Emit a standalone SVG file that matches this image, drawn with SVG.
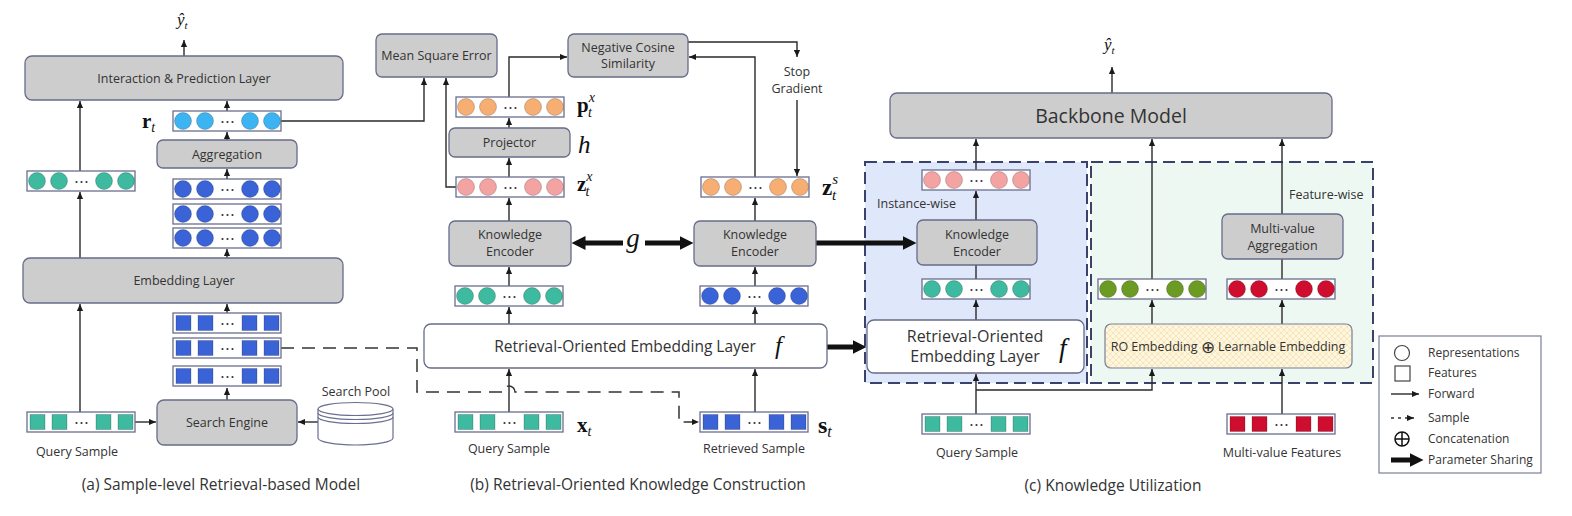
<svg xmlns="http://www.w3.org/2000/svg" xmlns:xlink="http://www.w3.org/1999/xlink" width="1572" height="516" viewBox="0 0 1572 516">
<style>
text{font-family:"Open Sans","Noto Sans",sans-serif;fill:#333;}
.lbl{font-size:12.5px;text-anchor:middle;}
.cap{font-size:15.5px;text-anchor:middle;}
.gb{fill:#cdcdcd;stroke:#676c8a;stroke-width:1.3;}
.wb{fill:#fff;stroke:#676c8a;stroke-width:1.3;}
.vb{fill:#fff;stroke:#6a6f8f;stroke-width:1.3;}
.cn{fill:none;stroke:#2a2a2a;stroke-width:1.4;}
.ar{marker-end:url(#a);}
.th{fill:none;stroke:#111;stroke-width:5;marker-end:url(#t);}
.dsh{fill:none;stroke:#333;stroke-width:1.5;stroke-dasharray:13,8;}
.math{font-family:"Liberation Serif","DejaVu Serif",serif;fill:#111;}
.it{font-style:italic;}
.bd{font-weight:bold;}
</style>
<defs>
<marker id="a" viewBox="0 0 8 8" refX="8" refY="4" markerWidth="7" markerHeight="7" markerUnits="userSpaceOnUse" orient="auto"><path d="M0,0.5 L8,4 L0,7.5 z" fill="#1a1a1a"/></marker>
<marker id="t" viewBox="0 0 14 14" refX="0.5" refY="7" markerWidth="14" markerHeight="14" markerUnits="userSpaceOnUse" orient="auto"><path d="M0,0 L14,7 L0,14 z" fill="#111"/></marker>
<pattern id="hatch" width="6" height="6" patternUnits="userSpaceOnUse"><rect width="6" height="6" fill="#fff7dd"/><path d="M0,0 L6,6 M6,0 L0,6" stroke="#f0d9a6" stroke-width="0.6"/></pattern>
<g id="cvec"><rect x="0" y="0" width="108" height="20" class="vb"/><circle cx="10" cy="10" r="8.5" stroke="rgba(0,0,0,0.25)" stroke-width="0.8"/><circle cx="32" cy="10" r="8.5" stroke="rgba(0,0,0,0.25)" stroke-width="0.8"/><circle cx="77" cy="10" r="8.5" stroke="rgba(0,0,0,0.25)" stroke-width="0.8"/><circle cx="99" cy="10" r="8.5" stroke="rgba(0,0,0,0.25)" stroke-width="0.8"/><circle cx="49.5" cy="11" r="1.1" fill="#333"/><circle cx="54.5" cy="11" r="1.1" fill="#333"/><circle cx="59.5" cy="11" r="1.1" fill="#333"/></g>
<g id="svec"><rect x="0" y="0" width="108" height="20" class="vb"/><rect x="3" y="2.5" width="15" height="15" stroke="rgba(0,0,0,0.25)" stroke-width="0.8"/><rect x="25" y="2.5" width="15" height="15" stroke="rgba(0,0,0,0.25)" stroke-width="0.8"/><rect x="69" y="2.5" width="15" height="15" stroke="rgba(0,0,0,0.25)" stroke-width="0.8"/><rect x="91" y="2.5" width="15" height="15" stroke="rgba(0,0,0,0.25)" stroke-width="0.8"/><circle cx="49.5" cy="11" r="1.1" fill="#333"/><circle cx="54.5" cy="11" r="1.1" fill="#333"/><circle cx="59.5" cy="11" r="1.1" fill="#333"/></g>
</defs>
<rect width="1572" height="516" fill="#fff"/>

<!-- panel (c) background regions -->
<g id="instance-wise-region">
<rect x="865" y="162" width="222" height="221" fill="#dfe7fb" stroke="#39426b" stroke-width="2" stroke-dasharray="12,6"/>
<text x="877" y="208" font-size="12.5">Instance-wise</text>
</g>
<g id="feature-wise-region">
<rect x="1091" y="162" width="282" height="221" fill="#eef8f2" stroke="#39426b" stroke-width="2" stroke-dasharray="12,6"/>
<text x="1289" y="199" font-size="12.5">Feature-wise</text>
</g>

<!-- connectors -->
<g id="connectors">
<path class="cn ar" d="M184,56 V40"/>
<path class="cn ar" d="M80,171 V101"/>
<path class="cn ar" d="M80,258 V192"/>
<path class="cn ar" d="M80,412 V304"/>
<path class="cn ar" d="M227,111 V101"/>
<path class="cn ar" d="M227,140 V132"/>
<path class="cn ar" d="M227,179 V169"/>
<path class="cn ar" d="M227,258 V249"/>
<path class="cn ar" d="M227,313 V304"/>
<path class="cn ar" d="M227,400 V388"/>
<path class="cn ar" d="M135,422 H156"/>
<path class="cn ar" d="M318,422 H298"/>
<path class="cn ar" d="M281,121 H424 V78"/>
<path class="cn ar" d="M456,187 H446 V78"/>
<path class="cn ar" d="M509,177 V158"/>
<path class="cn ar" d="M509,128 V118"/>
<path class="cn ar" d="M509,97 V57 H567"/>
<path class="cn ar" d="M509,221 V198"/>
<path class="cn ar" d="M509,286 V267"/>
<path class="cn ar" d="M509,324 V307"/>
<path class="cn ar" d="M509,412 V369"/>
<path class="cn ar" d="M755,221 V198"/>
<path class="cn ar" d="M755,286 V267"/>
<path class="cn ar" d="M755,324 V307"/>
<path class="cn ar" d="M755,412 V369"/>
<path class="cn ar" d="M755,177 V57 H689"/>
<path class="cn ar" d="M688,42 H797 V57"/>
<path class="cn ar" d="M797,100 V176"/>
<path class="dsh ar" d="M281,348 H417 V392 H503 A6,6 0 0 1 515,392 H679 V422 H699"/>
<path class="cn ar" d="M1112,93 V67"/>
<path class="cn ar" d="M976,170 V139"/>
<path class="cn ar" d="M1152,279 V139"/>
<path class="cn ar" d="M1282,214 V139"/>
<path class="cn ar" d="M976,220 V191"/>
<path class="cn" d="M976,279 V265"/>
<path class="cn ar" d="M976,320 V300"/>
<path class="cn ar" d="M976,414 V374"/>
<path class="cn ar" d="M976,390 H1152 V369"/>
<path class="cn ar" d="M1152,324 V300"/>
<path class="cn" d="M1282,279 V259"/>
<path class="cn ar" d="M1282,324 V300"/>
<path class="cn ar" d="M1282,414 V369"/>
<path class="th" d="M623,243 H585"/>
<path class="th" d="M645,243 H680"/>
<path class="th" d="M816,243 H903"/>
<path class="th" d="M827,347 H853"/>
</g>

<!-- (a) Sample-level Retrieval-based Model -->
<g id="a-yhat"><text class="math it" x="177" y="25" font-size="17">ŷ<tspan font-size="11" dy="4">t</tspan></text></g>
<g id="a-interaction"><rect class="gb" x="25" y="56" width="318" height="44" rx="7"/><text class="lbl" x="184" y="83" font-size="13">Interaction &amp; Prediction Layer</text></g>
<g id="a-rt"><text class="math bd" x="142" y="128" font-size="21">r<tspan class="it" font-weight="normal" font-size="14" dy="4">t</tspan></text><use href="#cvec" x="173" y="111" fill="#3db4f2"/></g>
<g id="a-aggregation"><rect class="gb" x="157" y="140" width="140" height="28" rx="6"/><text class="lbl" x="227" y="159" font-size="13">Aggregation</text></g>
<g id="a-query-rep"><use href="#cvec" x="27" y="171" fill="#3dba9f"/></g>
<g id="a-retrieved-reps"><use href="#cvec" x="173" y="179" fill="#3a63d8"/><use href="#cvec" x="173" y="204" fill="#3a63d8"/><use href="#cvec" x="173" y="228" fill="#3a63d8"/></g>
<g id="a-embedding"><rect class="gb" x="23" y="258" width="320" height="45" rx="7"/><text class="lbl" x="184" y="285" font-size="13">Embedding Layer</text></g>
<g id="a-retrieved-feats"><use href="#svec" x="173" y="313" fill="#3a63d8"/><use href="#svec" x="173" y="338" fill="#3a63d8"/><use href="#svec" x="173" y="366" fill="#3a63d8"/></g>
<g id="a-search-engine"><rect class="gb" x="157" y="400" width="140" height="45" rx="7"/><text class="lbl" x="227" y="427" font-size="13">Search Engine</text></g>
<g id="a-query"><use href="#svec" x="27" y="412" fill="#3dba9f"/><text class="lbl" x="77" y="456">Query Sample</text></g>
<g id="a-search-pool">
<text class="lbl" x="356" y="396">Search Pool</text>
<path d="M318,409 V438 A37.5,7 0 0 0 393,438 V409" fill="#fff" stroke="#6a6f8f" stroke-width="1.2"/>
<ellipse cx="355.5" cy="409" rx="37.5" ry="6.5" fill="#fff" stroke="#6a6f8f" stroke-width="1.2"/>
<path d="M318,413 A37.5,6.5 0 0 0 393,413 M318,417 A37.5,6.5 0 0 0 393,417" fill="none" stroke="#6a6f8f" stroke-width="1.2"/>
</g>
<g id="a-caption"><text class="cap" x="221" y="490">(a) Sample-level Retrieval-based Model</text></g>

<!-- (b) Retrieval-Oriented Knowledge Construction -->
<g id="b-mse"><rect class="gb" x="376" y="34" width="121" height="43" rx="6"/><text class="lbl" x="436.5" y="60" font-size="12.5">Mean Square Error</text></g>
<g id="b-ncs"><rect class="gb" x="568" y="34" width="120" height="43" rx="6"/><text class="lbl" x="628" y="52" font-size="12.5">Negative Cosine</text><text class="lbl" x="628" y="68" font-size="12.5">Similarity</text></g>
<g id="b-stop-gradient"><text class="lbl" x="797" y="76">Stop</text><text class="lbl" x="797" y="93">Gradient</text></g>
<g id="b-px"><use href="#cvec" x="456" y="97" fill="#f7ae72"/><text class="math bd" x="577" y="112" font-size="21">p<tspan class="it" font-weight="normal" font-size="14" dy="-10">x</tspan><tspan class="it" font-weight="normal" font-size="14" dx="-7" dy="15">t</tspan></text></g>
<g id="b-projector"><rect class="gb" x="449" y="128" width="121" height="29" rx="6"/><text class="lbl" x="509.5" y="147" font-size="13">Projector</text><text class="math it" x="578" y="153" font-size="25">h</text></g>
<g id="b-zx"><use href="#cvec" x="456" y="177" fill="#f4a3a3"/><text class="math bd" x="577" y="191" font-size="21">z<tspan class="it" font-weight="normal" font-size="14" dy="-10">x</tspan><tspan class="it" font-weight="normal" font-size="14" dx="-7" dy="15">t</tspan></text></g>
<g id="b-zs"><use href="#cvec" x="701" y="177" fill="#f7ae72"/><text class="math bd" x="822" y="195" font-size="23">z<tspan class="it" font-weight="normal" font-size="15" dy="-11">s</tspan><tspan class="it" font-weight="normal" font-size="15" dx="-6" dy="16">t</tspan></text></g>
<g id="b-ke-query"><rect class="gb" x="449" y="221" width="122" height="45" rx="6"/><text class="lbl" x="510" y="239" font-size="13">Knowledge</text><text class="lbl" x="510" y="256" font-size="13">Encoder</text></g>
<g id="b-g"><text class="math it" x="633" y="247" font-size="27" text-anchor="middle">g</text></g>
<g id="b-ke-retrieved"><rect class="gb" x="694" y="221" width="122" height="45" rx="6"/><text class="lbl" x="755" y="239" font-size="13">Knowledge</text><text class="lbl" x="755" y="256" font-size="13">Encoder</text></g>
<g id="b-query-rep"><use href="#cvec" x="455" y="286" fill="#3dba9f"/></g>
<g id="b-retrieved-rep"><use href="#cvec" x="700" y="286" fill="#3a63d8"/></g>
<g id="b-ro-embedding"><rect class="wb" x="424" y="324" width="403" height="44" rx="7"/><text x="625" y="352" font-size="15.5" text-anchor="middle">Retrieval-Oriented Embedding Layer</text><text class="math it" x="775" y="354" font-size="25">f</text></g>
<g id="b-query"><use href="#svec" x="455" y="412" fill="#3dba9f"/><text class="math bd" x="577" y="432" font-size="21">x<tspan class="it" font-weight="normal" font-size="14" dy="4">t</tspan></text><text class="lbl" x="509" y="453">Query Sample</text></g>
<g id="b-retrieved"><use href="#svec" x="700" y="412" fill="#3a63d8"/><text class="math bd" x="818" y="433" font-size="24">s<tspan class="it" font-weight="normal" font-size="16" dy="4">t</tspan></text><text class="lbl" x="754" y="453">Retrieved Sample</text></g>
<g id="b-caption"><text class="cap" x="638" y="490">(b) Retrieval-Oriented Knowledge Construction</text></g>

<!-- (c) Knowledge Utilization -->
<g id="c-yhat"><text class="math it" x="1104" y="50" font-size="17">ŷ<tspan font-size="11" dy="4">t</tspan></text></g>
<g id="c-backbone"><rect class="gb" x="890" y="93" width="442" height="45" rx="7"/><text x="1111" y="123" font-size="19.5" text-anchor="middle">Backbone Model</text></g>
<g id="c-knowledge-rep"><use href="#cvec" x="922" y="170" fill="#f4a3a3"/></g>
<g id="c-ke"><rect class="gb" x="917" y="220" width="120" height="45" rx="6"/><text class="lbl" x="977" y="239" font-size="13.5">Knowledge</text><text class="lbl" x="977" y="256" font-size="13.5">Encoder</text></g>
<g id="c-query-rep"><use href="#cvec" x="922" y="279" fill="#3dba9f"/></g>
<g id="c-ro-embedding"><rect class="wb" x="867" y="320" width="217" height="53" rx="7"/><text x="975" y="342" font-size="16" text-anchor="middle">Retrieval-Oriented</text><text x="975" y="362" font-size="16" text-anchor="middle">Embedding Layer</text><text class="math it" x="1059" y="357" font-size="27">f</text></g>
<g id="c-mva"><rect class="gb" x="1222" y="214" width="121" height="45" rx="6"/><text class="lbl" x="1282.5" y="233" font-size="13.5">Multi-value</text><text class="lbl" x="1282.5" y="250" font-size="13.5">Aggregation</text></g>
<g id="c-green-rep"><use href="#cvec" x="1098" y="279" fill="#6b9b22"/></g>
<g id="c-red-rep"><use href="#cvec" x="1227" y="279" fill="#cf0d2e"/></g>
<g id="c-concat-embedding"><rect x="1105" y="324" width="247" height="44" rx="6" fill="url(#hatch)" stroke="#7b7f98" stroke-width="1.2"/><text x="1228" y="351" font-size="12.5" text-anchor="middle">RO Embedding <tspan font-size="17" dy="1.5">⊕</tspan><tspan dy="-1.5"> Learnable Embedding</tspan></text></g>
<g id="c-query"><use href="#svec" x="922" y="414" fill="#3dba9f"/><text class="lbl" x="977" y="457">Query Sample</text></g>
<g id="c-multi-value"><use href="#svec" x="1227" y="414" fill="#cf0d2e"/><text class="lbl" x="1282" y="457">Multi-value Features</text></g>
<g id="c-caption"><text class="cap" x="1113" y="491">(c) Knowledge Utilization</text></g>

<!-- legend -->
<g id="legend">
<rect x="1379" y="336" width="162" height="137" fill="#fff" stroke="#7a7f9a" stroke-width="1.2"/>
<circle cx="1402" cy="353" r="7.5" fill="none" stroke="#444" stroke-width="1.2"/>
<rect x="1395" y="366" width="15" height="15" fill="none" stroke="#444" stroke-width="1.2"/>
<path class="cn ar" d="M1391,394 H1419"/>
<path d="M1391,418 H1414" fill="none" stroke="#333" stroke-width="1.4" stroke-dasharray="3,4" marker-end="url(#a)"/>
<circle cx="1402" cy="439" r="7" fill="none" stroke="#111" stroke-width="1.5"/>
<path d="M1395,439 H1409 M1402,432 V446" stroke="#111" stroke-width="1.5"/>
<path class="th" d="M1391,460 H1410"/>
<text x="1428" y="357" font-size="12">Representations</text>
<text x="1428" y="377" font-size="12">Features</text>
<text x="1428" y="398" font-size="12">Forward</text>
<text x="1428" y="422" font-size="12">Sample</text>
<text x="1428" y="443" font-size="12">Concatenation</text>
<text x="1428" y="464" font-size="12">Parameter Sharing</text>
</g>
</svg>
